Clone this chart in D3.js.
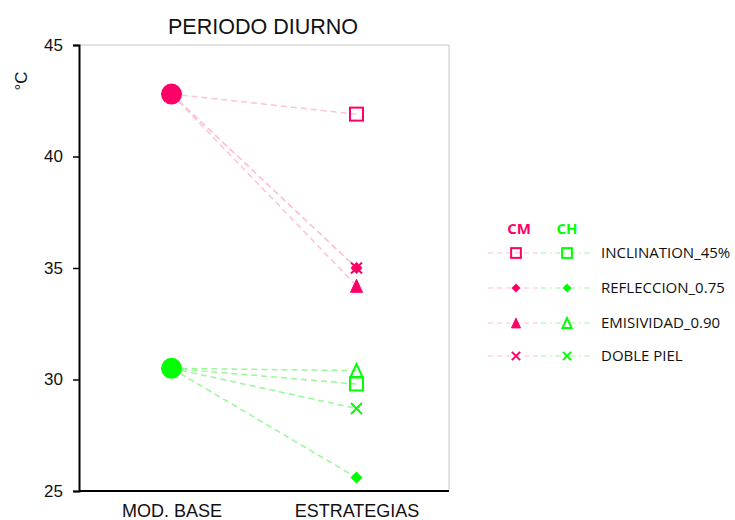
<!DOCTYPE html>
<html><head><meta charset="utf-8">
<script src="https://cdn.jsdelivr.net/npm/d3@7"></script>
<style>body{margin:0;background:#fff}svg{display:block}</style>
</head><body>
<script>
const categories = ["MOD. BASE", "ESTRATEGIAS"];
const strategies = ["INCLINATION_45%", "REFLECCION_0.75", "EMISIVIDAD_0.90", "DOBLE PIEL"];
const cmBase = 42.8;
const chBase = 30.5;
const cmValues = [41.9, 35.0, 34.2, 35.0];
const chValues = [29.8, 25.6, 30.4, 28.7];
const yTicks = [25, 30, 35, 40, 45];
const groups = ["CM", "CH"];

const W = 735, H = 520;
const m = {l: 79, r: 449, t: 45, b: 491};
const pink = "#ff0066", green = "#00ff00";
const pinkLine = "#ffc2d6", greenLine = "#99f799";
const arial = "Liberation Sans, Arial, sans-serif";

const svg = d3.select("body").append("svg").attr("width", W).attr("height", H);
const x = d3.scalePoint().domain(categories).range([m.l, m.r]).padding(0.5);
const y = d3.scaleLinear().domain([25, 45]).range([m.b, m.t]);

svg.append("path").attr("d", `M${m.l},${m.t}H${m.r}V${m.b}`).attr("fill", "none").attr("stroke", "#c8c8c8").attr("stroke-width", 1);

const ya = svg.append("g").attr("transform", `translate(${m.l},0)`)
  .call(d3.axisLeft(y).tickValues(yTicks).tickSize(6).tickPadding(10));
ya.select(".domain").attr("stroke", "#000").attr("stroke-width", 2);
ya.selectAll(".tick line").attr("stroke", "#000").attr("stroke-width", 1.5);
ya.selectAll("text").attr("font-family", arial).attr("font-size", 17).attr("fill", "#111");

const xa = svg.append("g").attr("transform", `translate(0,${m.b})`)
  .call(d3.axisBottom(x).tickSize(0).tickPadding(13));
xa.select(".domain").attr("stroke", "#000").attr("stroke-width", 2).attr("d", `M${m.l},0H${m.r}`);
xa.selectAll("text").attr("font-family", arial).attr("font-size", 18).attr("fill", "#111");

svg.append("text").attr("x", 263).attr("y", 34).attr("text-anchor", "middle")
  .attr("font-family", arial).attr("font-size", 21.5).attr("fill", "#111").text("PERIODO DIURNO");
svg.append("text").attr("transform", "translate(27,81) rotate(-90)").attr("text-anchor", "middle")
  .attr("font-family", arial).attr("font-size", 17).attr("fill", "#111").text("°C");

function marker(g, i, color, filledTri, cx, cy, scale) {
  const s = scale || 1;
  if (i === 0) {
    g.append("rect").attr("x", cx - 6.5 * s).attr("y", cy - 6.5 * s).attr("width", 13 * s).attr("height", 13 * s)
      .attr("fill", "none").attr("stroke", color).attr("stroke-width", 2);
  } else if (i === 1) {
    const d = 6 * s;
    g.append("path").attr("d", `M${cx},${cy - d}L${cx + d},${cy}L${cx},${cy + d}L${cx - d},${cy}Z`).attr("fill", color);
  } else if (i === 2) {
    const h = 13 * s, w = 12 * s;
    g.append("path").attr("d", `M${cx},${cy - h / 2}L${cx + w / 2},${cy + h / 2}L${cx - w / 2},${cy + h / 2}Z`)
      .attr("fill", filledTri ? color : "none").attr("stroke", color).attr("stroke-width", filledTri ? 1 : 2);
  } else {
    const d = 5.5 * s;
    g.append("path").attr("d", `M${cx - d},${cy - d}L${cx + d},${cy + d}M${cx - d},${cy + d}L${cx + d},${cy - d}`)
      .attr("stroke", color).attr("stroke-width", 2);
  }
}

const x0 = x(categories[0]), x1 = x(categories[1]);
const lines = svg.append("g");
cmValues.forEach(v => lines.append("line").attr("x1", x0).attr("y1", y(cmBase)).attr("x2", x1).attr("y2", y(v))
  .attr("stroke", pinkLine).attr("stroke-width", 1.5).attr("stroke-dasharray", "6,4"));
chValues.forEach(v => lines.append("line").attr("x1", x0).attr("y1", y(chBase)).attr("x2", x1).attr("y2", y(v))
  .attr("stroke", greenLine).attr("stroke-width", 1.5).attr("stroke-dasharray", "6,4"));

const mk = svg.append("g");
mk.append("circle").attr("cx", x0).attr("cy", y(cmBase)).attr("r", 10.5).attr("fill", pink);
mk.append("circle").attr("cx", x0).attr("cy", y(chBase)).attr("r", 10.5).attr("fill", green);
[1, 0, 2, 3].forEach(i => marker(mk, i, pink, true, x1, y(cmValues[i])));
[1, 0, 2, 3].forEach(i => marker(mk, i, green, false, x1, y(chValues[i])));

const lg = svg.append("g").attr("font-family", "Open Sans, Lato, sans-serif");
lg.append("text").attr("x", 519).attr("y", 234).attr("text-anchor", "middle").attr("fill", pink)
  .attr("font-weight", "bold").attr("font-size", 15).text(groups[0]);
lg.append("text").attr("x", 567).attr("y", 234).attr("text-anchor", "middle").attr("fill", green)
  .attr("font-weight", "bold").attr("font-size", 15).text(groups[1]);
const rowY = [253, 288, 323, 356];
strategies.forEach((s, i) => {
  const yy = rowY[i];
  lg.append("line").attr("x1", 488).attr("x2", 540).attr("y1", yy).attr("y2", yy)
    .attr("stroke", pinkLine).attr("stroke-width", 1.2).attr("stroke-dasharray", "5,4");
  lg.append("line").attr("x1", 541).attr("x2", 592).attr("y1", yy).attr("y2", yy)
    .attr("stroke", greenLine).attr("stroke-width", 1.2).attr("stroke-dasharray", "5,4,1.5,4");
  marker(lg, i, pink, true, 516, yy, 0.75);
  marker(lg, i, green, false, 567, yy, 0.75);
  lg.append("text").attr("x", 601).attr("y", yy + 5).attr("font-size", 15).attr("fill", "#111").text(s);
});
</script>
</body></html>
